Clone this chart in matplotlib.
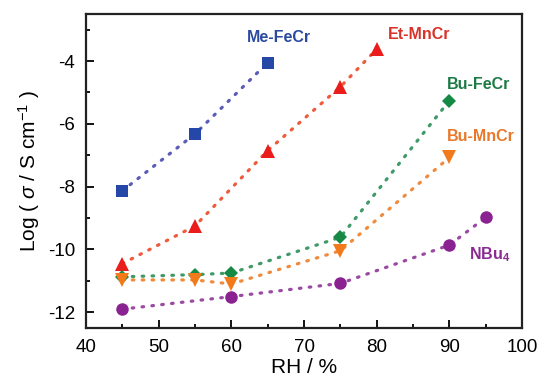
import numpy as np
import matplotlib
matplotlib.use("Agg")
import matplotlib.pyplot as plt

plt.rcParams['font.family'] = ['Liberation Sans', 'DejaVu Sans']
plt.rcParams['mathtext.fontset'] = 'custom'
plt.rcParams['mathtext.rm'] = 'Liberation Sans'
plt.rcParams['mathtext.it'] = 'Liberation Sans:italic'
plt.rcParams['mathtext.bf'] = 'Liberation Sans:bold'
plt.rcParams['axes.unicode_minus'] = False

# relative humidity (%) and log conductivity for each compound
rh_me_fecr = [45, 55, 65]
me_fecr = [-8.13, -6.32, -4.05]

rh_et_mncr = [45, 55, 65, 75, 80]
et_mncr = [-10.45, -9.25, -6.85, -4.82, -3.62]

rh_bu_fecr = [45, 55, 60, 75, 90]
bu_fecr = [-10.87, -10.8, -10.75, -9.61, -5.26]

rh_bu_mncr = [45, 55, 60, 75, 90]
bu_mncr = [-10.97, -10.97, -11.1, -10.04, -7.07]

rh_nbu4 = [45, 60, 75, 90, 95]
nbu4 = [-11.9, -11.5, -11.08, -9.86, -8.98]

fig = plt.figure(figsize=(5.39, 3.79), dpi=100)
ax = fig.add_axes([0.1596, 0.1346, 0.8089, 0.8285])

dots = (0, (0.5, 2.6))

def series(x, y, col, line_col, marker, ms):
    ax.plot(x, y, color=line_col, linestyle=dots, lw=2.3,
            dash_capstyle='round', zorder=2)
    ax.plot(x, y, linestyle='none', marker=marker, ms=ms,
            color=col, markeredgewidth=0, zorder=3)

series(rh_me_fecr, me_fecr, '#2447a8', '#5a5cb8', 's', 8)
series(rh_et_mncr, et_mncr, '#ea1c1c', '#ee5a3a', '^', 9.5)
series(rh_bu_fecr, bu_fecr, '#168a45', '#3f9a68', 'D', 7)
series(rh_bu_mncr, bu_mncr, '#f27a1a', '#f08a3c', 'v', 9.5)
series(rh_nbu4, nbu4, '#8b2291', '#9a4aa2', 'o', 9)

# labels next to curves
lab = dict(fontsize=11.5, fontweight='bold', ha='left', va='center')
ax.text(62.1, -3.24, 'Me-FeCr', color='#2a4aa0', **lab)
ax.text(81.5, -3.14, 'Et-MnCr', color='#d8322a', **lab)
ax.text(89.7, -4.73, 'Bu-FeCr', color='#1d7a45', **lab)
ax.text(89.7, -6.39, 'Bu-MnCr', color='#e8782a', **lab)
ax.text(92.7, -10.18, r'NBu$_\mathbf{4}$', color='#8b2a91', **lab)

ax.set_xlim(40, 100)
ax.set_ylim(-12.5, -2.5)
ax.set_xticks(np.arange(40, 101, 10))
ax.set_xticks(np.arange(45, 100, 10), minor=True)
ax.set_yticks([-12, -10, -8, -6, -4])
ax.set_yticks([-11, -9, -7, -5, -3], minor=True)

ax.tick_params(which='both', direction='in', top=False, right=False,
               width=1.3, labelsize=13.5)
ax.tick_params(which='major', length=6, pad=8)
ax.tick_params(which='minor', length=3)
for s in ax.spines.values():
    s.set_linewidth(1.6)
    s.set_color('#222222')

ax.set_xlabel('RH / %', fontsize=15, labelpad=1.5)
ax.set_ylabel(r'Log ( $\sigma$ / S cm$^{-1}$ )', fontsize=15, labelpad=4)

fig.savefig('out.png', dpi=100)
